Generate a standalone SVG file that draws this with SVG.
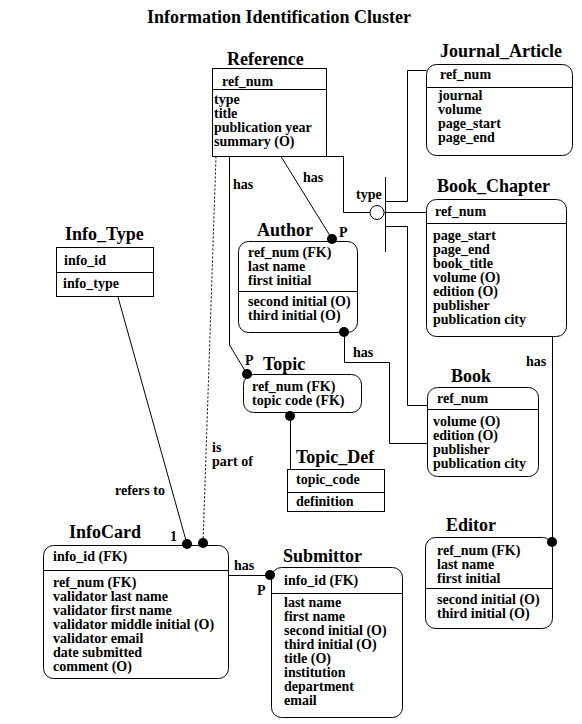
<svg xmlns="http://www.w3.org/2000/svg" width="582" height="724" viewBox="0 0 582 724">
<style>
.t{font:bold 18px "Liberation Serif",serif;fill:#000}
.a{font:bold 14px "Liberation Serif",serif;fill:#000}
.box{fill:#fff;stroke:#000;stroke-width:1}
.ln{fill:none;stroke:#000;stroke-width:1}
.dl{fill:none;stroke:#000;stroke-width:1;stroke-dasharray:2 2}
.dot{fill:#000}
</style>
<rect width="582" height="724" fill="#fff"/>
<text class="t" x="147" y="23">Information Identification Cluster</text>

<g id="reference">
<text class="t" x="227" y="65">Reference</text>
<rect class="box" x="212.5" y="68.5" width="114" height="88"/>
<line class="ln" x1="212.5" y1="89.5" x2="326.5" y2="89.5"/>
<text class="a" x="222" y="86">ref_num</text>
<text class="a" x="214" y="104">type</text>
<text class="a" x="214" y="118">title</text>
<text class="a" x="214" y="132">publication year</text>
<text class="a" x="214" y="146">summary (O)</text>
</g>

<g id="journal_article">
<text class="t" x="440" y="57">Journal_Article</text>
<rect class="box" x="426.5" y="64.5" width="146" height="91" rx="10"/>
<line class="ln" x1="426.5" y1="87.5" x2="572.5" y2="87.5"/>
<text class="a" x="440" y="79">ref_num</text>
<text class="a" x="438" y="100">journal</text>
<text class="a" x="438" y="114">volume</text>
<text class="a" x="438" y="128">page_start</text>
<text class="a" x="438" y="142">page_end</text>
</g>

<g id="book_chapter">
<text class="t" x="437" y="192">Book_Chapter</text>
<rect class="box" x="426.5" y="199.5" width="140" height="137" rx="10"/>
<line class="ln" x1="426.5" y1="223.5" x2="566.5" y2="223.5"/>
<text class="a" x="435" y="216">ref_num</text>
<text class="a" x="433" y="240">page_start</text>
<text class="a" x="433" y="254">page_end</text>
<text class="a" x="433" y="268">book_title</text>
<text class="a" x="433" y="282">volume (O)</text>
<text class="a" x="433" y="296">edition (O)</text>
<text class="a" x="433" y="310">publisher</text>
<text class="a" x="433" y="324">publication city</text>
</g>

<g id="info_type">
<text class="t" x="65" y="240">Info_Type</text>
<rect class="box" x="56.5" y="247.5" width="97" height="49"/>
<line class="ln" x1="56.5" y1="272.5" x2="153.5" y2="272.5"/>
<text class="a" x="64" y="265">info_id</text>
<text class="a" x="63" y="288">info_type</text>
</g>

<g id="author">
<text class="t" x="257" y="236">Author</text>
<rect class="box" x="238.5" y="241.5" width="119" height="91" rx="10"/>
<line class="ln" x1="238.5" y1="291.5" x2="357.5" y2="291.5"/>
<text class="a" x="248" y="257">ref_num (FK)</text>
<text class="a" x="248" y="271">last name</text>
<text class="a" x="248" y="285">first initial</text>
<text class="a" x="248" y="306">second initial (O)</text>
<text class="a" x="248" y="320">third initial (O)</text>
</g>

<g id="topic">
<text class="t" x="263" y="370">Topic</text>
<rect class="box" x="243.5" y="374.5" width="118" height="38" rx="10"/>
<text class="a" x="252" y="391">ref_num (FK)</text>
<text class="a" x="252" y="405">topic code (FK)</text>
</g>

<g id="topic_def">
<text class="t" x="296" y="463">Topic_Def</text>
<rect class="box" x="287.5" y="469.5" width="97" height="42"/>
<line class="ln" x1="287.5" y1="492.5" x2="384.5" y2="492.5"/>
<text class="a" x="296" y="484">topic_code</text>
<text class="a" x="296" y="506">definition</text>
</g>

<g id="book">
<text class="t" x="451" y="382">Book</text>
<rect class="box" x="427.5" y="387.5" width="111" height="89" rx="10"/>
<line class="ln" x1="427.5" y1="409.5" x2="538.5" y2="409.5"/>
<text class="a" x="437" y="403">ref_num</text>
<text class="a" x="433" y="426">volume (O)</text>
<text class="a" x="433" y="440">edition (O)</text>
<text class="a" x="433" y="454">publisher</text>
<text class="a" x="433" y="468">publication city</text>
</g>

<g id="editor">
<text class="t" x="446" y="531">Editor</text>
<rect class="box" x="425.5" y="537.5" width="127" height="91" rx="10"/>
<line class="ln" x1="425.5" y1="588.5" x2="552.5" y2="588.5"/>
<text class="a" x="437" y="555">ref_num (FK)</text>
<text class="a" x="437" y="569">last name</text>
<text class="a" x="437" y="583">first initial</text>
<text class="a" x="437" y="604">second initial (O)</text>
<text class="a" x="437" y="618">third initial (O)</text>
</g>

<g id="infocard">
<text class="t" x="69" y="538">InfoCard</text>
<rect class="box" x="43.5" y="545.5" width="185" height="133" rx="10"/>
<line class="ln" x1="43.5" y1="570.5" x2="228.5" y2="570.5"/>
<text class="a" x="53" y="561">info_id (FK)</text>
<text class="a" x="53" y="587">ref_num (FK)</text>
<text class="a" x="53" y="601">validator last name</text>
<text class="a" x="53" y="615">validator first name</text>
<text class="a" x="53" y="629">validator middle initial (O)</text>
<text class="a" x="53" y="643">validator email</text>
<text class="a" x="53" y="657">date submitted</text>
<text class="a" x="53" y="671">comment (O)</text>
</g>

<g id="submittor">
<text class="t" x="283" y="562">Submittor</text>
<rect class="box" x="271.5" y="567.5" width="131" height="150" rx="10"/>
<line class="ln" x1="271.5" y1="593.5" x2="402.5" y2="593.5"/>
<text class="a" x="284" y="585">info_id (FK)</text>
<text class="a" x="284" y="607">last name</text>
<text class="a" x="284" y="621">first name</text>
<text class="a" x="284" y="635">second initial (O)</text>
<text class="a" x="284" y="649">third initial (O)</text>
<text class="a" x="284" y="663">title (O)</text>
<text class="a" x="284" y="677">institution</text>
<text class="a" x="284" y="691">department</text>
<text class="a" x="284" y="705">email</text>
</g>

<g id="connectors">
<!-- subtype junction -->
<polyline class="ln" points="326.5,156.5 343.5,156.5 343.5,212.5 370,212.5"/>
<circle class="box" cx="377" cy="212.5" r="7"/>
<line class="ln" x1="385.5" y1="177" x2="385.5" y2="252"/>
<line class="ln" x1="384" y1="212.5" x2="426.5" y2="212.5"/>
<polyline class="ln" points="385.5,201.5 407.5,201.5 407.5,70.5 426.5,70.5"/>
<polyline class="ln" points="385.5,226.5 407.5,226.5 407.5,405.5 427.5,405.5"/>
<text class="a" x="356" y="199">type</text>
<!-- Reference - Author -->
<line class="ln" x1="281" y1="156.5" x2="332" y2="239"/>
<circle class="dot" cx="332" cy="239" r="5"/>
<text class="a" x="303" y="182">has</text>
<text class="a" x="339" y="237">P</text>
<!-- Reference - Topic -->
<polyline class="ln" points="229.5,156.5 229.5,345 247,374"/>
<circle class="dot" cx="247" cy="374" r="5"/>
<text class="a" x="233" y="189">has</text>
<text class="a" x="245" y="365">P</text>
<!-- Author - Book -->
<circle class="dot" cx="344" cy="332" r="5"/>
<polyline class="ln" points="344.5,332 344.5,362.5 389.5,362.5 389.5,443.5 427.5,443.5"/>
<text class="a" x="353" y="357">has</text>
<!-- Topic - Topic_Def -->
<circle class="dot" cx="290" cy="416" r="5"/>
<line class="ln" x1="290.5" y1="416" x2="290.5" y2="469.5"/>
<!-- Book_Chapter - Editor -->
<line class="ln" x1="552.5" y1="336.5" x2="552.5" y2="542"/>
<circle class="dot" cx="552" cy="542" r="5"/>
<text class="a" x="526" y="366">has</text>
<!-- Info_Type - InfoCard -->
<line class="ln" x1="118" y1="297" x2="187" y2="544"/>
<circle class="dot" cx="187" cy="544" r="5"/>
<text class="a" x="115" y="495">refers to</text>
<text class="a" x="170" y="541">1</text>
<!-- Reference - InfoCard (dotted) -->
<line class="dl" x1="216" y1="156.5" x2="203" y2="543"/>
<circle class="dot" cx="203" cy="543" r="5"/>
<text class="a" x="212" y="452">is</text>
<text class="a" x="212" y="466">part of</text>
<!-- InfoCard - Submittor -->
<line class="ln" x1="228.5" y1="575.5" x2="270" y2="575.5"/>
<circle class="dot" cx="270" cy="575" r="5"/>
<text class="a" x="234" y="570">has</text>
<text class="a" x="257" y="595">P</text>
</g>
</svg>
